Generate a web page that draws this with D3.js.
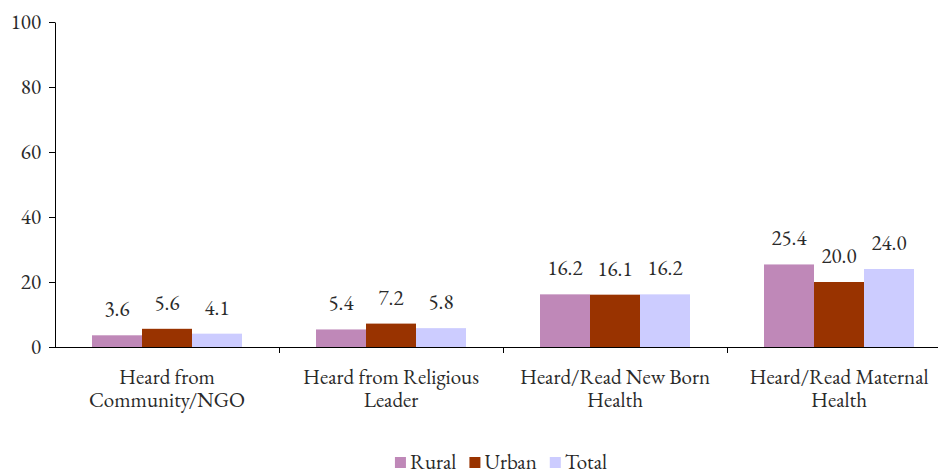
<!DOCTYPE html>
<html><head><meta charset="utf-8">
<script src="https://cdnjs.cloudflare.com/ajax/libs/d3/7.8.5/d3.min.js"></script>
<style>body{margin:0;background:#fff;}svg{display:block;}</style>
</head><body>
<svg id="c" width="938" height="469"></svg>
<script>
const categories = [["Heard from","Community/NGO"],["Heard from Religious","Leader"],["Heard/Read New Born","Health"],["Heard/Read Maternal","Health"]];
const seriesNames = ["Rural","Urban","Total"];
const rural = [3.6, 5.4, 16.2, 25.4];
const urban = [5.6, 7.2, 16.1, 20.0];
const total = [4.1, 5.8, 16.2, 24.0];
const colors = ["#BF88B8","#993300","#CCCCFF"];
const yTicks = [0,20,40,60,80,100];

(function(){
const FONT = '"EB Garamond","Liberation Serif",serif';
const FS = "21px";
const TXT = "#2a2a2a";
const series = [rural, urban, total];
const svg = d3.select("#c");
const mLeft = 55, mRight = 951, mTop = 22, mBottom = 347;
const x = d3.scaleBand().domain(d3.range(categories.length)).range([mLeft, mRight]).padding(0);
const xs = d3.scaleBand().domain(seriesNames).range([37, 187]).padding(0);
const y = d3.scaleLinear().domain([0,100]).range([mBottom, mTop]);

function styleText(sel){ return sel.style("font-family", FONT).style("font-size", FS).style("fill", TXT); }

// bars
categories.forEach((c, i) => {
  const g = svg.append("g").attr("transform", `translate(${x(i)},0)`);
  seriesNames.forEach((s, j) => {
    const v = series[j][i];
    g.append("rect").attr("x", xs(s)).attr("y", y(v)).attr("width", xs.bandwidth()).attr("height", y(0) - y(v)).attr("fill", colors[j]);
    styleText(g.append("text").attr("x", xs(s) + xs.bandwidth()/2).attr("y", y(v) - 19).attr("text-anchor","middle")).text(v.toFixed(1));
  });
});

// y axis
const ya = svg.append("g").attr("transform", `translate(${mLeft},0)`).call(d3.axisLeft(y).tickValues(yTicks).tickSize(6).tickSizeOuter(0).tickPadding(8));
ya.select(".domain").attr("stroke","#000");
ya.selectAll(".tick line").attr("stroke","#000");
styleText(ya.selectAll("text"));

// x axis
svg.append("line").attr("x1", mLeft).attr("x2", 938).attr("y1", mBottom+0.5).attr("y2", mBottom+0.5).attr("stroke","#000");
d3.range(1, categories.length).forEach(i => {
  svg.append("line").attr("x1", x(i)+0.5).attr("x2", x(i)+0.5).attr("y1", mBottom).attr("y2", mBottom+6).attr("stroke","#000");
});
categories.forEach((c, i) => {
  c.forEach((line, k) => styleText(svg.append("text").attr("text-anchor","middle").attr("x", x(i) + x.bandwidth()/2).attr("y", 384 + k*23)).text(line));
});

// legend
const lg = svg.append("g");
let cx = 0;
seriesNames.forEach((s, j) => {
  lg.append("rect").attr("x", cx).attr("y", 457).attr("width", 11).attr("height", 11).attr("fill", colors[j]);
  const t = styleText(lg.append("text").attr("x", cx + 15).attr("y", 469)).text(s);
  cx += 15 + t.node().getComputedTextLength() + 13;
});
const lw = cx - 13;
lg.attr("transform", `translate(${501 - lw/2},0)`);
})();
</script>
</body></html>
